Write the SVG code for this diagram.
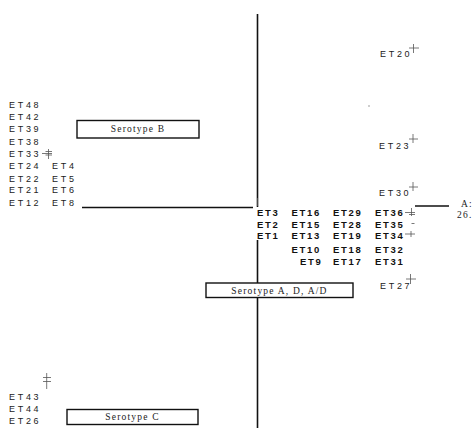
<svg xmlns="http://www.w3.org/2000/svg" width="474" height="428" viewBox="0 0 474 428">
<style>
.lab{font-family:"Liberation Sans",Arial,sans-serif;font-size:9px;letter-spacing:2.7px;fill:#222}
.cl{font-family:"Liberation Sans",Arial,sans-serif;font-size:9.5px;font-weight:bold;letter-spacing:1.7px;fill:#111}
.ser{font-family:"Liberation Serif","Times New Roman",serif;font-size:9.5px;letter-spacing:1.2px;fill:#222}
.box{fill:#fff;stroke:#111;stroke-width:1.4}
.ln{stroke:#111;stroke-width:1.6;fill:none}
.tk{stroke:#555;stroke-width:0.8;fill:none}
</style>
<rect width="474" height="428" fill="#fff"/>
<g id="connectors">
<line class="ln" x1="257.5" y1="14" x2="257.5" y2="207"/>
<line class="ln" x1="257.5" y1="240" x2="257.5" y2="428"/>
<line class="ln" x1="82" y1="207.5" x2="253" y2="207.5"/>
<line class="ln" x1="415" y1="206" x2="449" y2="206"/>
<line class="tk" x1="257.5" y1="198" x2="257.5" y2="206"/>
</g>
<g id="serotypeB">
<rect class="box" x="77" y="120.5" width="122" height="17.5"/>
<text class="ser" x="138" y="132" text-anchor="middle">Serotype B</text>
</g>
<g id="serotypeC">
<rect class="box" x="67" y="409.5" width="131" height="15"/>
<text class="ser" x="132.5" y="420" text-anchor="middle">Serotype C</text>
</g>
<g id="serotypeAD">
<rect class="box" x="206" y="283" width="147" height="14.5"/>
<text class="ser" x="279.5" y="293.5" text-anchor="middle">Serotype A, D, A/D</text>
</g>
<g id="groupB">
<text class="lab" x="9" y="107.5">ET48</text>
<text class="lab" x="9" y="120">ET42</text>
<text class="lab" x="9" y="132.3">ET39</text>
<text class="lab" x="9" y="145">ET38</text>
<text class="lab" x="9" y="156.6">ET33</text>
<text class="lab" x="9" y="169.3">ET24</text>
<text class="lab" x="9" y="181.6">ET22</text>
<text class="lab" x="9" y="193.3">ET21</text>
<text class="lab" x="9" y="206">ET12</text>
<text class="lab" x="52" y="169.3">ET4</text>
<text class="lab" x="52" y="181.6">ET5</text>
<text class="lab" x="52" y="193.3">ET6</text>
<text class="lab" x="52" y="206">ET8</text>
<path class="tk" d="M42 153.5H52M48.5 149V159M45.5 151.5H52M45.5 155H52"/>
</g>
<g id="groupC">
<path class="tk" d="M46.7 373V389M43 377.5H51M43 381.5H51"/>
<text class="lab" x="9" y="400.3">ET43</text>
<text class="lab" x="9" y="412.3">ET44</text>
<text class="lab" x="9" y="424.3">ET26</text>
</g>
<g id="groupAD">
<text class="cl" x="257" y="216.2">ET3</text>
<text class="cl" x="291.5" y="216.2">ET16</text>
<text class="cl" x="333" y="216.2">ET29</text>
<text class="cl" x="375" y="216.2">ET36</text>
<text class="cl" x="257" y="227.8">ET2</text>
<text class="cl" x="291.5" y="227.8">ET15</text>
<text class="cl" x="333" y="227.8">ET28</text>
<text class="cl" x="375" y="227.8">ET35</text>
<text class="cl" x="257" y="238.5">ET1</text>
<text class="cl" x="291.5" y="238.5">ET13</text>
<text class="cl" x="333" y="238.5">ET19</text>
<text class="cl" x="375" y="238.5">ET34</text>
<text class="cl" x="291.5" y="252.5">ET10</text>
<text class="cl" x="333" y="252.5">ET18</text>
<text class="cl" x="375" y="252.5">ET32</text>
<text class="cl" x="300" y="265">ET9</text>
<text class="cl" x="333" y="265">ET17</text>
<text class="cl" x="375" y="265">ET31</text>
<path class="tk" d="M405 212.5H415M411.5 208V216M409 214.5H415M411.5 223.5H414.5M405 234H415M411 231V237"/>
</g>
<g id="groupRight">
<text class="lab" x="380" y="56.5">ET20</text>
<path class="tk" d="M409 48H419M413.5 44V53"/>
<text class="lab" x="379" y="149">ET23</text>
<path class="tk" d="M409 139H418M413 134V143"/>
<text class="lab" x="379" y="196">ET30</text>
<path class="tk" d="M409 187H418M413 182V191"/>
<text class="lab" x="380" y="288.5">ET27</text>
<path class="tk" d="M406 279H416M410.5 274V284"/>
<circle cx="369" cy="106" r="0.7" fill="#777"/>
</g>
<g id="outgroup">
<text class="ser" x="461" y="206.5" letter-spacing="1">A:</text>
<text class="ser" x="457" y="217.5" letter-spacing="1">26.</text>
</g>
</svg>
